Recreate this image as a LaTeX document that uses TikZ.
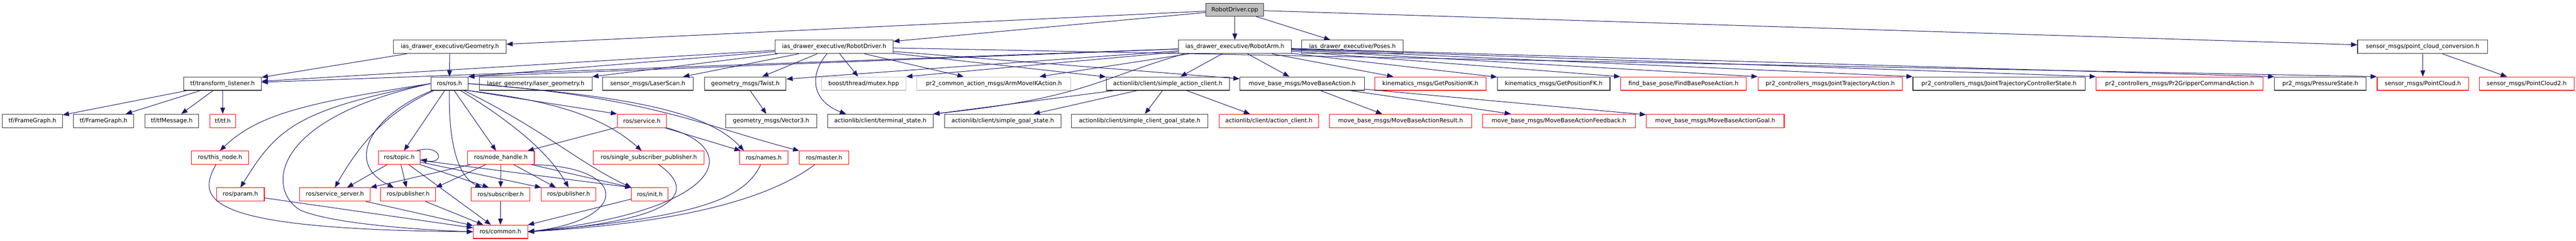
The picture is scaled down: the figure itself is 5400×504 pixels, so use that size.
\documentclass[tikz,border=0pt]{standalone}
\usepackage{fontspec}
\setmainfont{DejaVu Sans}
\usetikzlibrary{arrows.meta}
\definecolor{edgeblue}{HTML}{191970}
\definecolor{nodegray}{HTML}{BFBFBF}

\begin{document}
\begin{tikzpicture}[x=1pt,y=-1pt,
  file/.style={draw=black!80,line width=1.2pt,fill=white,minimum height=28pt,inner xsep=2pt,inner ysep=0pt,font=\fontsize{12.2}{14}\selectfont},
  redfile/.style={file,draw=red},
  nofile/.style={file,draw=nodegray},
  rootfile/.style={file,fill=nodegray,minimum height=27pt},
  inc/.style={draw=edgeblue,line width=1.1pt,-{Triangle[length=13pt,width=10pt]}}]
\useasboundingbox (0,0) rectangle (5400,504);

\node[rootfile,minimum width=121pt] (cpp) at (2588.5,20.5) {RobotDriver.cpp};

\node[file,minimum width=236pt] (geom) at (943,98) {ias\_drawer\_executive/Geometry.h};
\node[file,minimum width=247pt] (rdrv) at (1748.5,98) {ias\_drawer\_executive/RobotDriver.h};
\node[file,minimum width=237pt] (rarm) at (2588.5,98) {ias\_drawer\_executive/RobotArm.h};
\node[file,minimum width=212pt] (poses) at (2835,98) {ias\_drawer\_executive/Poses.h};
\node[file,minimum width=273pt] (pcc) at (5078.5,98) {sensor\_msgs/point\_cloud\_conversion.h};

\node[file,minimum width=163pt] (tfl) at (466.5,175) {tf/transform\_listener.h};
\node[file,minimum width=78pt] (ros) at (942,175) {ros/ros.h};
\node[file,minimum width=236pt] (laser) at (1123,175) {laser\_geometry/laser\_geometry.h};
\node[file,minimum width=190pt] (scan) at (1358,175) {sensor\_msgs/LaserScan.h};
\node[file,minimum width=171pt] (twist) at (1562.5,175) {geometry\_msgs/Twist.h};
\node[nofile,minimum width=177pt] (mutex) at (1810.5,175) {boost/thread/mutex.hpp};
\node[nofile,minimum width=323pt] (armik) at (2083.5,175) {pr2\_common\_action\_msgs/ArmMoveIKAction.h};
\node[file,minimum width=258pt] (sac) at (2448,175) {actionlib/client/simple\_action\_client.h};
\node[file,minimum width=261pt] (mba) at (2729.5,175) {move\_base\_msgs/MoveBaseAction.h};
\node[redfile,minimum width=233pt] (ik) at (2998.5,175) {kinematics\_msgs/GetPositionIK.h};
\node[file,minimum width=236pt] (fk) at (3257,175) {kinematics\_msgs/GetPositionFK.h};
\node[redfile,minimum width=264pt] (fbp) at (3529,175) {find\_base\_pose/FindBasePoseAction.h};
\node[redfile,minimum width=303pt] (jta) at (3836.5,175) {pr2\_controllers\_msgs/JointTrajectoryAction.h};
\node[file,minimum width=361pt] (jtcs) at (4190.5,175) {pr2\_controllers\_msgs/JointTrajectoryControllerState.h};
\node[redfile,minimum width=350pt] (grip) at (4569,175) {pr2\_controllers\_msgs/Pr2GripperCommandAction.h};
\node[file,minimum width=192pt] (press) at (4864,175) {pr2\_msgs/PressureState.h};
\node[redfile,minimum width=192pt] (pc) at (5079,175) {sensor\_msgs/PointCloud.h};
\node[redfile,minimum width=199pt] (pc2) at (5296.5,175) {sensor\_msgs/PointCloud2.h};

\node[file,minimum width=126pt] (fga) at (68,253) {tf/FrameGraph.h};
\node[file,minimum width=126pt] (fgb) at (217,253) {tf/FrameGraph.h};
\node[file,minimum width=112pt] (tfmsg) at (360,253) {tf/tfMessage.h};
\node[redfile,minimum width=54pt] (tf) at (467,253) {tf/tf.h};
\node[redfile,minimum width=103pt] (srv) at (1345.5,253) {ros/service.h};
\node[file,minimum width=191pt] (vec) at (1616.5,253) {geometry\_msgs/Vector3.h};
\node[file,minimum width=221pt] (term) at (1845.5,253) {actionlib/client/terminal\_state.h};
\node[file,minimum width=244pt] (sgs) at (2102,253) {actionlib/client/simple\_goal\_state.h};
\node[file,minimum width=286pt] (scgs) at (2389,253) {actionlib/client/simple\_client\_goal\_state.h};
\node[redfile,minimum width=208pt] (ac) at (2660,253) {actionlib/client/action\_client.h};
\node[redfile,minimum width=298pt] (mbres) at (2936,253) {move\_base\_msgs/MoveBaseActionResult.h};
\node[redfile,minimum width=320pt] (mbfb) at (3268,253) {move\_base\_msgs/MoveBaseActionFeedback.h};
\node[redfile,minimum width=289pt] (mbgoal) at (3595.5,253) {move\_base\_msgs/MoveBaseActionGoal.h};

\node[redfile,minimum width=120pt] (thisn) at (461,330) {ros/this\_node.h};
\node[redfile,minimum width=88pt] (topic) at (837,330) {ros/topic.h};
\node[redfile,minimum width=140pt] (nh) at (1050,330) {ros/node\_handle.h};
\node[redfile,minimum width=232pt] (ssp) at (1360,330) {ros/single\_subscriber\_publisher.h};
\node[redfile,minimum width=102pt] (names) at (1601,330) {ros/names.h};
\node[redfile,minimum width=103pt] (master) at (1727.5,330) {ros/master.h};

\node[redfile,minimum width=100pt] (param) at (504,407) {ros/param.h};
\node[redfile,minimum width=148pt] (ssrv) at (702,407) {ros/service\_server.h};
\node[redfile,minimum width=115pt] (puba) at (855.5,407) {ros/publisher.h};
\node[redfile,minimum width=123pt] (sub) at (1049.5,407) {ros/subscriber.h};
\node[redfile,minimum width=114pt] (pubb) at (1192,407) {ros/publisher.h};
\node[redfile,minimum width=76pt] (init) at (1362,407) {ros/init.h};

\node[redfile,minimum width=114pt] (common) at (1049,485) {ros/common.h};

\draw[inc] (cpp) -- (rarm);
\draw[inc] (cpp) -- (geom);
\draw[inc] (cpp) -- (rdrv);
\draw[inc] (cpp) -- (poses);
\draw[inc] (cpp) -- (pcc);

\draw[inc] (geom) -- (tfl);
\draw[inc] (geom) -- (ros);

\draw[inc] (rdrv) -- (ros.north east);
\draw[inc] (rdrv) -- (tfl);
\draw[inc] (rdrv) -- (laser);
\draw[inc] (rdrv) -- (scan);
\draw[inc] (rdrv) -- (twist);
\draw[inc] (rdrv) -- (mutex);
\draw[inc] (rdrv) -- (armik);
\draw[inc] (rdrv) -- (sac);
\draw[inc] (rdrv) -- (mba);
\draw[inc] (rdrv) -- (pc.north west);
\draw[inc] ([xshift=-15pt]rdrv.south) .. controls (1690,165) and (1710,215) .. ([xshift=-72pt]term.north);

\draw[inc] (rarm) -- (ros.north east);
\draw[inc] (rarm) -- (tfl);
\draw[inc] (rarm) -- ([yshift=-5pt]twist.north east);
\draw[inc] (rarm) -- (mutex.north east);
\draw[inc] (rarm) -- (armik);
\draw[inc] (rarm) -- (sac);
\draw[inc] (rarm) -- (mba);
\draw[inc] ([xshift=13pt]rarm.south west) .. controls (2300,165) and (2275,205) .. (term.north east);
\draw[inc] (rarm) -- (ik);
\draw[inc] (rarm) -- (fk);
\draw[inc] (rarm) -- (fbp.north west);
\draw[inc] (rarm) -- (jta.north west);
\draw[inc] (rarm) -- (jtcs.north west);
\draw[inc] (rarm) -- (grip.north west);
\draw[inc] (rarm) -- (press.north west);

\draw[inc] (pcc) -- (pc);
\draw[inc] (pcc) -- (pc2);

\draw[inc] (tfl) -- (fga);
\draw[inc] (tfl) -- (fgb);
\draw[inc] (tfl) -- (tfmsg);
\draw[inc] (tfl) -- (tf);

\draw[inc] (twist) -- (vec);

\draw[inc] (sac) -- (term);
\draw[inc] (sac) -- (sgs);
\draw[inc] (sac) -- (scgs);
\draw[inc] (sac) -- (ac);

\draw[inc] (mba) -- (mbres);
\draw[inc] (mba) -- (mbfb);
\draw[inc] (mba) -- (mbgoal);

\draw[inc] (ros.west) .. controls (640,215) and (540,240) .. (thisn.north);
\draw[inc] (ros.west) .. controls (620,230) and (580,270) .. (param.north);
\draw[inc] (ros.west) .. controls (560,250) and (560,400) .. (630,440) .. controls (700,470) and (900,482) .. (common.west);
\draw[inc] (ros) .. controls (820,230) and (760,290) .. (ssrv.north);
\draw[inc] (ros) .. controls (780,240) and (720,340) .. ([xshift=-30pt]puba.north);
\draw[inc] (ros) -- (topic);
\draw[inc] (ros) -- (nh);
\draw[inc] (ros.south) .. controls (940,300) and (960,370) .. ([xshift=-40pt]sub.north);
\draw[inc] (ros) .. controls (1080,260) and (1150,320) .. (pubb.north);
\draw[inc] (ros) .. controls (1130,265) and (1220,345) .. (init.north west);
\draw[inc] (ros.south east) -- (srv.north west);
\draw[inc] (ros.south east) .. controls (1150,210) and (1260,240) .. ([xshift=-15pt]ssp.north);
\draw[inc] (ros.east) .. controls (1300,200) and (1480,230) .. ([xshift=10pt]names.north west);
\draw[inc] (ros.east) .. controls (1350,200) and (1480,265) .. (master.north west);

\draw[inc] (srv) -- (nh);
\draw[inc] (srv) -- (names);
\draw[inc] (srv.south east) .. controls (1560,310) and (1520,440) .. (common.east);

\draw[inc] (topic) -- (ssrv);
\draw[inc] (topic) -- (puba);
\draw[inc] (topic) -- ([xshift=-25pt]sub.north);
\draw[inc] (topic) -- (pubb.north west);
\draw[inc] (topic) -- (init.north west);
\draw[inc] (topic) -- (common);
\draw[inc] ([xshift=-8pt]topic.north east) .. controls (925,300) and (935,345) .. ([yshift=-4pt]topic.east);

\draw[inc] (nh) -- (ssrv.north east);
\draw[inc] (nh) -- (puba.north east);
\draw[inc] (nh) -- (sub);
\draw[inc] (nh) -- (pubb);
\draw[inc] (nh) -- (init.north west);
\draw[inc] (nh.south east) .. controls (1320,350) and (1320,460) .. (common.east);

\draw[inc] (thisn) .. controls (410,420) and (430,480) .. (common.west);
\draw[inc] (param) -- (common);
\draw[inc] (ssrv) -- (common);
\draw[inc] (puba) -- (common);
\draw[inc] (sub) -- (common);
\draw[inc] (init) -- (common);
\draw[inc] (ssp) .. controls (1460,400) and (1430,460) .. (common.east);
\draw[inc] (names) .. controls (1560,420) and (1450,455) .. (common.east);
\draw[inc] (master) .. controls (1620,410) and (1450,465) .. (common.east);
\end{tikzpicture}
\end{document}
